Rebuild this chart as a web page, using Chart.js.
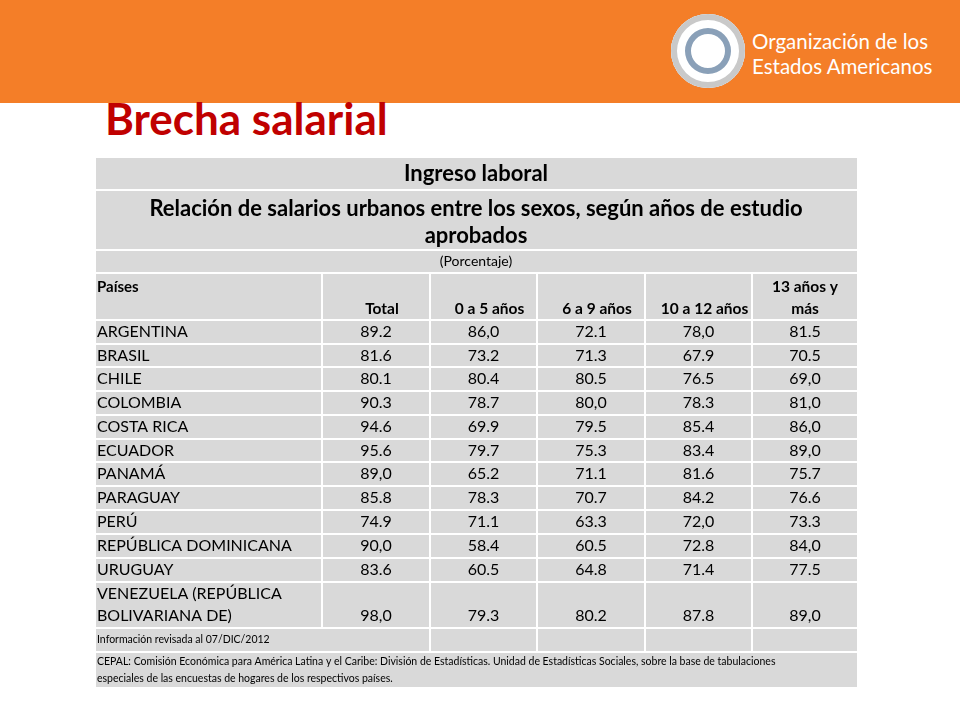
<!DOCTYPE html>
<html><head><meta charset="utf-8">
<script src="https://cdn.jsdelivr.net/npm/chart.js@4"></script>
<style>
body{margin:0;width:960px;height:720px;background:#fff;position:relative;font-family:Lato,"Open Sans",sans-serif;overflow:hidden}
#band{position:absolute;left:0;top:0;width:960px;height:103px;background:#f47e28}
#logo{position:absolute;left:671px;top:14px;width:74px;height:74px;border-radius:50%;background:#fff;box-shadow:inset 0 0 0 6px #c9c9c9,inset 0 0 0 14px #fff,inset 0 0 0 20px #8aa0b8}
#org{position:absolute;left:752px;top:29px;color:#fff;font-size:20.5px;line-height:25px}
#title{position:absolute;left:105px;top:92px;color:#c00000;font-size:44px;font-weight:bold}
#wrap{position:absolute;left:95px;top:157px;width:763px;height:531px}
</style></head><body>
<div id="band"></div><div id="logo"></div>
<div id="org">Organización de los<br>Estados Americanos</div>
<div id="title">Brecha salarial</div>
<div id="wrap"><canvas id="c"></canvas></div>
<script>
const paises = ['ARGENTINA','BRASIL','CHILE','COLOMBIA','COSTA RICA','ECUADOR','PANAMÁ','PARAGUAY','PERÚ','REPÚBLICA DOMINICANA','URUGUAY','VENEZUELA (REPÚBLICA|BOLIVARIANA DE)'];
const columnas = ['Total','0 a 5 años','6 a 9 años','10 a 12 años','13 años y|más'];
const total   = ['89.2','81.6','80.1','90.3','94.6','95.6','89,0','85.8','74.9','90,0','83.6','98,0'];
const anos0a5 = ['86,0','73.2','80.4','78.7','69.9','79.7','65.2','78.3','71.1','58.4','60.5','79.3'];
const anos6a9 = ['72.1','71.3','80.5','80,0','79.5','75.3','71.1','70.7','63.3','60.5','64.8','80.2'];
const anos10a12 = ['78,0','67.9','76.5','78.3','85.4','83.4','81.6','84.2','72,0','72.8','71.4','87.8'];
const anos13 = ['81.5','70.5','69,0','81,0','86,0','89,0','75.7','76.6','73.3','84,0','77.5','89,0'];

const colEdges = [0,227,335,442,550,657,763];
const rowEdges = [0,33,93,116,163,187,210,234,258,282,305,329,353,377,401,425,471,495,531];

const tablePlugin = {
  id: 'tabla',
  afterDraw(chart) {
    const ctx = chart.ctx, xs = chart.scales.x, ys = chart.scales.y;
    const X = v => xs.getPixelForValue(v), Y = v => ys.getPixelForValue(v);
    const cell = (c0, c1, r0, r1) => {
      ctx.fillStyle = '#d9d9d9';
      ctx.fillRect(X(colEdges[c0]) + 1, Y(rowEdges[r0]) + 1, X(colEdges[c1]) - X(colEdges[c0]) - 2, Y(rowEdges[r1]) - Y(rowEdges[r0]) - 2);
    };
    const text = (s, x, y, font, align) => {
      ctx.fillStyle = '#000'; ctx.font = font; ctx.textAlign = align || 'center'; ctx.textBaseline = 'middle';
      ctx.fillText(s, x, y);
    };
    const mid = r => (Y(rowEdges[r]) + Y(rowEdges[r + 1])) / 2;
    for (let r = 0; r < 3; r++) cell(0, 6, r, r + 1);
    text('Ingreso laboral', X(381), mid(0), 'bold 22px Lato');
    text('Relación de salarios urbanos entre los sexos, según años de estudio', X(381), Y(52), 'bold 22px Lato');
    text('aprobados', X(381), Y(79), 'bold 22px Lato');
    text('(Porcentaje)', X(381), mid(2), '14px Lato');
    for (let c = 0; c < 6; c++) cell(c, c + 1, 3, 4);
    text('Países', X(2), Y(130), 'bold 15px Lato', 'left');
    columnas.forEach((s, i) => {
      const cx = (X(colEdges[i + 1]) + X(colEdges[i + 2])) / 2;
      const parts = s.split('|');
      if (parts.length > 1) { text(parts[0], cx, Y(130), 'bold 15.5px Lato'); text(parts[1], cx, Y(152), 'bold 15.5px Lato'); }
      else text(s, cx + 6, Y(152), 'bold 15.5px Lato');
    });
    const series = [total, anos0a5, anos6a9, anos10a12, anos13];
    paises.forEach((p, i) => {
      const r = 4 + i;
      for (let c = 0; c < 6; c++) cell(c, c + 1, r, r + 1);
      const parts = p.split('|');
      if (parts.length > 1) { text(parts[0], X(2), Y(rowEdges[r]) + 12, '16px Lato', 'left'); text(parts[1], X(2), Y(rowEdges[r]) + 34, '16px Lato', 'left'); }
      else text(p, X(2), mid(r), '16px Lato', 'left');
      const y = parts.length > 1 ? Y(rowEdges[r]) + 34 : mid(r);
      series.forEach((s, j) => {
        const cx = (X(colEdges[j + 1]) + X(colEdges[j + 2])) / 2;
        text(s[i], cx, y, '16px Lato');
      });
    });
    cell(0, 2, 16, 17); for (let c = 2; c < 6; c++) cell(c, c + 1, 16, 17);
    text('Información revisada al 07/DIC/2012', X(2), mid(16), '10.5px Lato', 'left');
    cell(0, 6, 17, 18);
    text('CEPAL: Comisión Económica para América Latina y el Caribe: División de Estadísticas. Unidad de Estadísticas Sociales, sobre la base de tabulaciones', X(2), Y(505), '10.5px Lato', 'left');
    text('especiales de las encuestas de hogares de los respectivos países.', X(2), Y(522), '10.5px Lato', 'left');
  }
};

new Chart(document.getElementById('c'), {
  type: 'scatter',
  data: { datasets: [{ data: [] }] },
  options: {
    responsive: true, maintainAspectRatio: false, animation: false,
    layout: { padding: 0 },
    plugins: { legend: { display: false }, tooltip: { enabled: false } },
    scales: {
      x: { type: 'linear', min: 0, max: 763, display: false },
      y: { type: 'linear', min: 0, max: 531, reverse: true, display: false }
    }
  },
  plugins: [tablePlugin]
});
</script></body></html>
